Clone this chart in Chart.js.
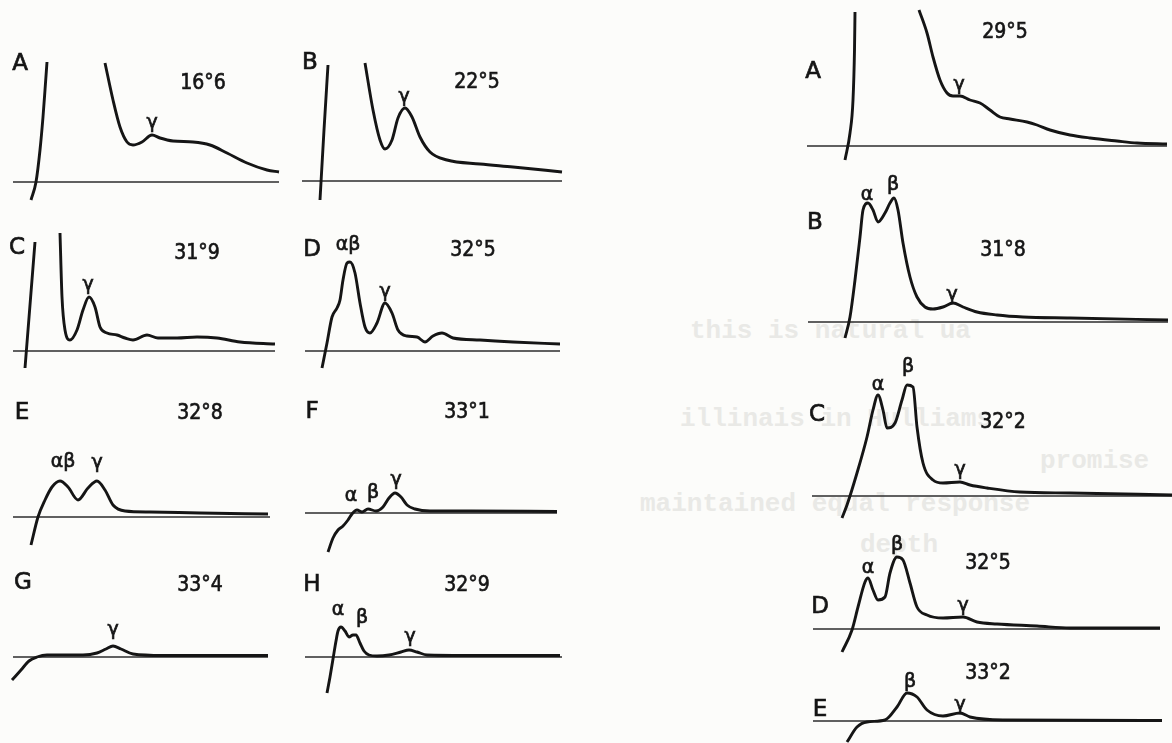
<!DOCTYPE html>
<html>
<head>
<meta charset="utf-8">
<script src="https://cdn.jsdelivr.net/npm/chart.js@4"></script>
<style>
  body { margin: 0; width: 1172px; height: 743px; overflow: hidden; position: relative; background: #fcfcfa; }
  canvas { position: absolute; }
  .ghost { position: absolute; font: bold 26px "Liberation Mono", monospace; color: #e9e9e6; white-space: pre; }
</style>
</head>
<body>
<div class="ghost" style="left:690px;top:316px">this is natural ua</div>
<div class="ghost" style="left:680px;top:404px">illinais in Hulliams</div>
<div class="ghost" style="left:1040px;top:446px">promise</div>
<div class="ghost" style="left:640px;top:489px">maintained equal response</div>
<div class="ghost" style="left:860px;top:530px">depth</div>
<script>
/* x = distance from the left end of the baseline, y = height above the baseline */

// --- left column ---
const leftA_x = [92, 100, 107, 114, 120, 129, 139, 147, 160, 180, 197, 214, 234, 254, 266];
const leftA_y = [119, 82, 55, 40, 37, 40, 47, 44, 41, 40, 37, 29, 19, 12, 10];
const leftA_edgeX = [18, 23, 27, 30, 32, 34];
const leftA_edgeY = [-18, 0, 32, 65, 92, 120];

const leftB_x = [63, 71, 78, 83, 90, 96, 103, 110, 118, 128, 145, 178, 211, 260];
const leftB_y = [118, 71, 41, 32, 41, 63, 73, 64, 44, 29, 21, 17, 14, 9];
const leftB_edgeX = [18, 22, 26];
const leftB_edgeY = [-19, 51, 116];

const leftC_x = [47, 49, 52, 57, 64, 70, 76, 82, 87, 94, 104, 112, 120, 134, 145, 164, 184, 204, 227, 262];
const leftC_y = [118, 54, 21, 11, 21, 41, 54, 44, 24, 18, 16, 13, 11, 16, 13, 13, 14, 13, 9, 7];
const leftC_edgeX = [12, 17, 22];
const leftC_edgeY = [-17, 46, 109];

const leftD_x = [17, 22, 27, 32, 35, 38, 42, 45, 50, 55, 60, 65, 72, 80, 87, 93, 102, 112, 120, 128, 137, 148, 175, 208, 255];
const leftD_y = [-17, 8, 34, 43, 51, 71, 88, 89, 78, 48, 24, 18, 28, 48, 38, 21, 15, 14, 9, 15, 18, 13, 11, 9, 7];

const leftE_x = [18, 25, 32, 39, 47, 55, 65, 75, 84, 92, 100, 112, 137, 187, 255];
const leftE_y = [-28, 0, 17, 30, 36, 30, 17, 29, 36, 27, 12, 6, 5, 4, 3];

const leftF_x = [23, 28, 33, 38, 43, 47, 52, 57, 63, 71, 78, 84, 90, 96, 102, 110, 125, 165, 252];
const leftF_y = [-39, -25, -17, -13, -7, -1, 3, 1, 4, 2, 6, 15, 20, 16, 8, 4, 2, 2, 1.5];

const leftG_x = [-1, 8, 16, 24, 34, 50, 70, 84, 93, 100, 108, 120, 150, 255];
const leftG_y = [-23, -13, -4, 0, 2, 2, 2, 4, 8, 11, 8, 3, 1.5, 1.5];

const leftH_x = [22, 25, 28, 31, 33, 36, 40, 44, 48, 51, 55, 59, 64, 72, 84, 96, 104, 112, 122, 160, 255];
const leftH_y = [-36, -20, -2, 16, 26, 30, 26, 20, 22, 22, 14, 6, 2, 1, 2, 5, 7, 5, 2, 1.5, 1.5];

// --- right column ---
const rightA_x = [112, 120, 126, 133, 140, 146, 153, 163, 173, 183, 193, 203, 220, 230, 243, 263, 283, 310, 330, 360];
const rightA_y = [136, 113, 89, 66, 53, 50, 50, 46, 43, 36, 29, 27, 24, 21, 16, 11, 8, 5, 3, 2];
const rightA_edgeX = [38, 43, 46, 47.5, 48];
const rightA_edgeY = [-14, 13, 46, 96, 134];

const rightB_x = [37, 42, 47, 52, 55, 60, 65, 70, 77, 82, 86, 90, 95, 102, 109, 117, 125, 135, 145, 155, 169, 189, 215, 262, 360];
const rightB_y = [-16, 5, 42, 85, 112, 119, 112, 100, 109, 119, 124, 112, 79, 45, 25, 15, 13, 15, 19, 15, 10, 7, 5, 4, 2];

const rightC_x = [30, 35, 45, 55, 61, 66, 71, 75, 83, 90, 95, 101, 105, 111, 121, 131, 148, 158, 175, 208, 258, 360];
const rightC_y = [-22, -9, 23, 59, 86, 101, 86, 68, 73, 96, 111, 109, 69, 33, 16, 13, 14, 11, 8, 4, 3, 1];

const rightD_x = [29, 39, 45, 52, 55, 60, 65, 72, 77, 84, 90, 97, 104, 114, 130, 150, 164, 184, 224, 257, 347];
const rightD_y = [-23, -1, 22, 47, 51, 39, 29, 32, 56, 72, 69, 46, 22, 14, 11, 12, 7, 5, 3, 1, 1];

const rightE_x = [34, 44, 54, 72, 84, 94, 104, 114, 130, 147, 157, 190, 349];
const rightE_y = [-21, -6, -1, 1, 14, 28, 24, 11, 5, 8, 4, 1, 0.5];

// draws the hand lettering (panel letter, temperature, peak names)
const notes = {
  id: 'notes',
  afterDatasetsDraw(chart, args, opts) {
    const ctx = chart.ctx;
    opts.items.forEach(([t, x, y, size, squeeze]) => {
      ctx.save();
      ctx.fillStyle = '#151515';
      ctx.strokeStyle = '#151515';
      ctx.lineWidth = 0.7;
      ctx.textAlign = 'center';
      ctx.textBaseline = 'middle';
      ctx.font = size + 'px "DejaVu Sans", sans-serif';
      ctx.translate(chart.scales.x.getPixelForValue(x), chart.scales.y.getPixelForValue(y));
      ctx.scale(squeeze || 1, 1);
      ctx.fillText(t, 0, 0);
      ctx.strokeText(t, 0, 0);
      ctx.restore();
    });
  }
};

function panel(p) {
  const pts = (xs, ys) => xs.map((x, i) => ({ x: x, y: ys[i] }));
  const series = [pts(p.cx, p.cy)];
  if (p.ex) series.push(pts(p.ex, p.ey));
  const ys = [].concat(...series.map(s => s.map(o => o.y)), p.notes.map(n => n[2]));
  const yMax = Math.ceil(Math.max(...ys)) + 22;
  const yMin = Math.floor(Math.min(0, ...ys)) - 12;
  const xMin = -20, xMax = p.span + 20;

  const c = document.createElement('canvas');
  c.width = xMax - xMin;
  c.height = yMax - yMin;
  c.style.left = (p.left + xMin) + 'px';
  c.style.top = (p.base - yMax) + 'px';
  document.body.appendChild(c);

  const datasets = series.map(s => ({
    data: s, borderColor: '#151515', borderWidth: 2.9, pointRadius: 0,
    cubicInterpolationMode: 'monotone', clip: false
  }));
  datasets.push({
    data: [{ x: 0, y: 0 }, { x: p.span, y: 0 }],
    borderColor: '#2c2c2c', borderWidth: 1.7, pointRadius: 0, clip: false
  });

  new Chart(c, {
    type: 'line',
    data: { datasets: datasets },
    options: {
      responsive: false, animation: false, events: [],
      layout: { padding: 0 },
      plugins: { legend: { display: false }, tooltip: { enabled: false }, notes: { items: p.notes } },
      scales: {
        x: { type: 'linear', display: false, min: xMin, max: xMax },
        y: { type: 'linear', display: false, min: yMin, max: yMax }
      }
    },
    plugins: [notes]
  });
}

// font sizes and horizontal squeeze of the lettering
const L = 23, T = 22, G = 19, SQ = 0.86;

panel({ left: 13, base: 182, span: 266, cx: leftA_x, cy: leftA_y, ex: leftA_edgeX, ey: leftA_edgeY,
  notes: [['A', 7, 118, L], ['16°6', 190, 99, T, SQ], ['γ', 139, 59, G]] });
panel({ left: 302, base: 181, span: 260, cx: leftB_x, cy: leftB_y, ex: leftB_edgeX, ey: leftB_edgeY,
  notes: [['B', 8, 118, L], ['22°5', 175, 99, T, SQ], ['γ', 102, 84, G]] });
panel({ left: 13, base: 351, span: 262, cx: leftC_x, cy: leftC_y, ex: leftC_edgeX, ey: leftC_edgeY,
  notes: [['C', 4, 103, L], ['31°9', 184, 98, T, SQ], ['γ', 75, 66, G]] });
panel({ left: 305, base: 351, span: 255, cx: leftD_x, cy: leftD_y,
  notes: [['D', 7, 101, L], ['32°5', 168, 101, T, SQ], ['αβ', 43, 106, G], ['γ', 80, 59, G]] });
panel({ left: 13, base: 517, span: 257, cx: leftE_x, cy: leftE_y,
  notes: [['E', 9, 104, L], ['32°8', 187, 104, T, SQ], ['αβ', 50, 55, G], ['γ', 84, 54, G]] });
panel({ left: 305, base: 513, span: 252, cx: leftF_x, cy: leftF_y,
  notes: [['F', 7, 101, L], ['33°1', 162, 101, T, SQ], ['α', 46, 17, G], ['β', 68, 20, G], ['γ', 91, 33, G]] });
panel({ left: 13, base: 657, span: 255, cx: leftG_x, cy: leftG_y,
  notes: [['G', 10, 74, L], ['33°4', 187, 72, T, SQ], ['γ', 100, 27, G]] });
panel({ left: 305, base: 657, span: 257, cx: leftH_x, cy: leftH_y,
  notes: [['H', 7, 72, L], ['32°9', 162, 72, T, SQ], ['α', 33, 47, G], ['β', 57, 39, G], ['γ', 105, 20, G]] });

panel({ left: 807, base: 146, span: 360, cx: rightA_x, cy: rightA_y, ex: rightA_edgeX, ey: rightA_edgeY,
  notes: [['A', 6, 74, L], ['29°5', 198, 114, T, SQ], ['γ', 152, 61, G]] });
panel({ left: 808, base: 322, span: 360, cx: rightB_x, cy: rightB_y,
  notes: [['B', 7, 99, L], ['31°8', 195, 72, T, SQ], ['α', 59, 127, G], ['β', 85, 137, G], ['γ', 144, 27, G]] });
panel({ left: 812, base: 496, span: 360, cx: rightC_x, cy: rightC_y,
  notes: [['C', 5, 81, L], ['32°2', 191, 74, T, SQ], ['α', 66, 111, G], ['β', 96, 129, G], ['γ', 148, 26, G]] });
panel({ left: 813, base: 629, span: 347, cx: rightD_x, cy: rightD_y,
  notes: [['D', 7, 22, L], ['32°5', 175, 66, T, SQ], ['α', 55, 61, G], ['β', 84, 84, G], ['γ', 150, 23, G]] });
panel({ left: 813, base: 721, span: 349, cx: rightE_x, cy: rightE_y,
  notes: [['E', 7, 11, L], ['33°2', 175, 48, T, SQ], ['β', 97, 39, G], ['γ', 147, 16, G]] });
</script>
</body>
</html>
